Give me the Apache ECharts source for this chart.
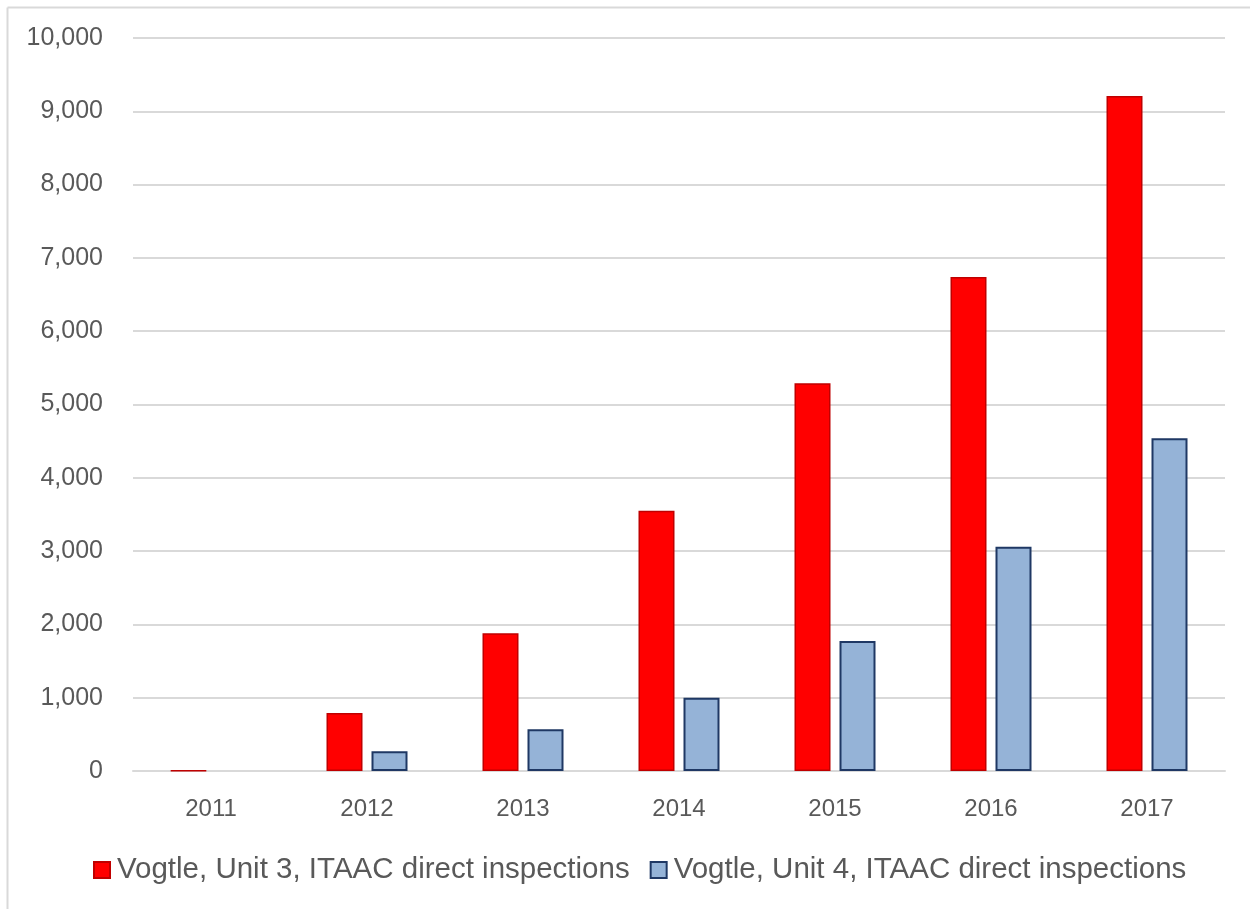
<!DOCTYPE html>
<html>
<head>
<meta charset="utf-8">
<script src="https://cdn.jsdelivr.net/npm/echarts@6/dist/echarts.min.js"></script>
<style>
  html, body { margin: 0; padding: 0; background: #fff; }
  #chart { width: 1250px; height: 909px; }
</style>
</head>
<body>
<div id="chart"></div>
<script>
// Yearly cumulative ITAAC direct inspections
const years = ['2011', '2012', '2013', '2014', '2015', '2016', '2017'];
const unit3 = [5, 790, 1880, 3550, 5290, 6740, 9210];
const unit4 = [null, 270, 570, 1000, 1775, 3060, 4540];
const unit3Name = 'Vogtle, Unit 3, ITAAC direct inspections';
const unit4Name = 'Vogtle, Unit 4, ITAAC direct inspections';

const FONT = 'Liberation Sans';
const TEXT = '#595959';

const chart = echarts.init(document.getElementById('chart'));
chart.setOption({
  animation: false,
  backgroundColor: '#fff',
  textStyle: { fontFamily: FONT },
  graphic: [
    { type: 'line', shape: { x1: 7.5, y1: 7.5, x2: 7.5, y2: 909 }, style: { stroke: '#d9d9d9', lineWidth: 2 } },
    { type: 'line', shape: { x1: 7.5, y1: 7.5, x2: 1250, y2: 7.5 }, style: { stroke: '#d9d9d9', lineWidth: 2 } }
  ],
  grid: { left: 133, right: 25, top: 38, bottom: 138, containLabel: false },
  legend: {
    bottom: 19,
    left: 88,
    icon: 'rect',
    itemWidth: 16,
    itemHeight: 16,
    itemGap: 20,
    textStyle: { fontFamily: FONT, fontSize: 29.5, color: TEXT, padding: [0, 0, 0, 2] },
    data: [unit3Name, unit4Name]
  },
  xAxis: {
    type: 'category',
    data: years,
    axisTick: { show: false },
    axisLine: { lineStyle: { color: '#d9d9d9', width: 2 } },
    axisLabel: { fontFamily: FONT, fontSize: 24, color: TEXT, margin: 26 }
  },
  yAxis: {
    type: 'value',
    min: 0,
    max: 10000,
    interval: 1000,
    axisLine: { show: false },
    axisTick: { show: false },
    splitLine: { lineStyle: { color: '#d9d9d9', width: 2 } },
    axisLabel: {
      fontFamily: FONT, fontSize: 25, color: TEXT, margin: 30,
      formatter: v => v.toLocaleString('en-US')
    }
  },
  series: [
    {
      name: unit3Name,
      type: 'bar',
      data: unit3,
      barWidth: 36,
      barGap: '25%',
      itemStyle: { color: '#ff0000', borderColor: '#c00000', borderWidth: 1.5 }
    },
    {
      name: unit4Name,
      type: 'bar',
      data: unit4,
      barWidth: 36,
      barGap: '25%',
      itemStyle: { color: '#95b3d7', borderColor: '#1f3864', borderWidth: 2 }
    }
  ]
});
</script>
</body>
</html>
